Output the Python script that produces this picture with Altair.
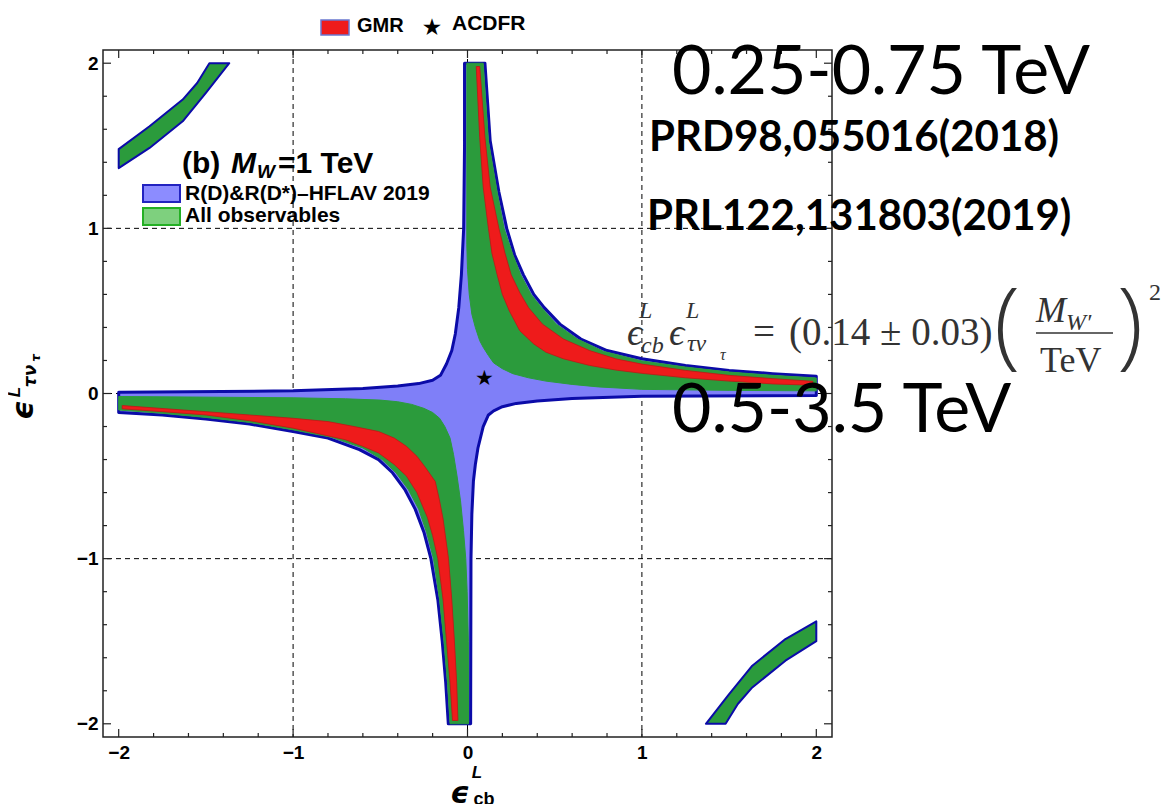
import altair as alt
import pandas as pd

# ---------------- data ----------------
# Blue region: R(D)&R(D*) HFLAV 2019 (one closed outline)
BLUE_X = [-0.017, 0.10, 0.13, 0.18, 0.225, 0.27, 0.32, 0.38, 0.44, 0.53, 0.65, 0.8, 1.0, 1.25, 1.5, 1.75, 2.0,
          2.0, 1.0, 0.6, 0.4, 0.28, 0.2, 0.15, 0.12, 0.09, 0.06, 0.045, 0.034, 0.025, 0.02, 0.018,
          -0.11, -0.125, -0.145, -0.17, -0.21, -0.25, -0.3, -0.36, -0.43, -0.51, -0.62, -0.8, -1.0, -1.25, -1.5, -1.75, -2.0,
          -2.0, -1.0, -0.6, -0.4, -0.28, -0.2, -0.155, -0.12, -0.09, -0.07, -0.05, -0.035, -0.022, -0.017]
BLUE_Y = [2.0, 2.0, 1.53, 1.22, 1.0, 0.84, 0.72, 0.6, 0.52, 0.42, 0.33, 0.26, 0.21, 0.17, 0.14, 0.12, 0.105,
          -0.012, -0.016, -0.03, -0.045, -0.06, -0.08, -0.105, -0.13, -0.2, -0.33, -0.43, -0.53, -0.73, -1.0, -2.0,
          -2.0, -1.75, -1.5, -1.25, -1.0, -0.84, -0.7, -0.58, -0.48, -0.4, -0.34, -0.27, -0.23, -0.185, -0.155, -0.13, -0.115,
          0.008, 0.016, 0.03, 0.045, 0.06, 0.08, 0.11, 0.18, 0.26, 0.36, 0.52, 0.72, 1.0, 1.5]

# Green region: all observables, first-quadrant branch
GREEN1_X = [-0.004, 0.09, 0.12, 0.17, 0.21, 0.26, 0.305, 0.365, 0.425, 0.51, 0.63, 0.78, 1.0, 1.25, 1.5, 1.75, 2.0,
            2.0, 1.5, 1.0, 0.75, 0.6, 0.45, 0.35, 0.26, 0.2, 0.15, 0.12, 0.09, 0.07, 0.045, 0.025, 0.01, 0.0, -0.004]
GREEN1_Y = [2.0, 2.0, 1.53, 1.22, 1.0, 0.84, 0.72, 0.6, 0.52, 0.42, 0.33, 0.255, 0.197, 0.16, 0.13, 0.11, 0.094,
            0.016, 0.019, 0.025, 0.04, 0.055, 0.075, 0.095, 0.12, 0.15, 0.185, 0.23, 0.28, 0.32, 0.4, 0.48, 0.6, 0.75, 0.9]
# third-quadrant branch
GREEN3_X = [-2.0, -1.0, -0.7, -0.5, -0.4, -0.32, -0.25, -0.2, -0.16, -0.13, -0.1, -0.08, -0.06, -0.04, -0.023, -0.01, -0.002, 0.005, 0.006,
            -0.1, -0.115, -0.135, -0.16, -0.195, -0.235, -0.28, -0.34, -0.41, -0.49, -0.6, -0.78, -1.0, -1.25, -1.5, -1.75, -2.0]
GREEN3_Y = [-0.018, -0.026, -0.032, -0.04, -0.05, -0.066, -0.09, -0.115, -0.15, -0.2, -0.27, -0.37, -0.5, -0.65, -0.83, -1.0, -1.2, -1.5, -2.0,
            -2.0, -1.75, -1.5, -1.25, -1.0, -0.84, -0.7, -0.58, -0.48, -0.4, -0.33, -0.265, -0.22, -0.175, -0.145, -0.12, -0.1]
# corner arcs (top-left and bottom-right)
ARC_TL_X = [-2.0, -2.0, -1.823, -1.633, -1.55, -1.48, -1.366, -1.5, -1.633, -1.823]
ARC_TL_Y = [1.365, 1.48, 1.618, 1.78, 1.88, 2.0, 2.0, 1.82, 1.648, 1.487]
ARC_BR_X = [1.367, 1.5, 1.633, 1.823, 2.0, 2.0, 1.823, 1.633, 1.55, 1.48]
ARC_BR_Y = [-2.0, -1.82, -1.648, -1.487, -1.38, -1.5, -1.618, -1.78, -1.88, -2.0]

# Red region: GMR
RED1_X = [0.05, 0.07, 0.1, 0.13, 0.18, 0.215, 0.25, 0.3, 0.35, 0.43, 0.55, 0.7, 0.85, 1.0, 1.25, 1.5, 1.75, 1.98,
          1.98, 1.75, 1.5, 1.25, 1.0, 0.85, 0.7, 0.55, 0.45, 0.38, 0.3, 0.24, 0.2, 0.17, 0.14, 0.12, 0.09, 0.07]
RED1_Y = [1.98, 1.98, 1.55, 1.25, 1.0, 0.85, 0.72, 0.61, 0.52, 0.42, 0.33, 0.26, 0.21, 0.178, 0.14, 0.11, 0.09, 0.074,
          0.05, 0.058, 0.075, 0.095, 0.122, 0.142, 0.17, 0.21, 0.25, 0.3, 0.38, 0.5, 0.6, 0.72, 0.85, 1.0, 1.25, 1.55]
RED3_X = [-1.98, -1.5, -1.25, -1.0, -0.8, -0.65, -0.51, -0.42, -0.35, -0.29, -0.24, -0.185, -0.16, -0.14, -0.109, -0.09, -0.075, -0.062, -0.055,
          -0.086, -0.1, -0.12, -0.14, -0.17, -0.2, -0.23, -0.29, -0.35, -0.42, -0.51, -0.6, -0.7, -0.85, -1.0, -1.25, -1.5, -1.75, -1.98]
RED3_Y = [-0.073, -0.11, -0.13, -0.15, -0.17, -0.2, -0.23, -0.27, -0.32, -0.38, -0.45, -0.533, -0.65, -0.76, -1.0, -1.25, -1.5, -1.75, -1.98,
          -1.98, -1.75, -1.5, -1.25, -1.0, -0.86, -0.75, -0.6, -0.5, -0.43, -0.36, -0.32, -0.28, -0.245, -0.21, -0.165, -0.13, -0.11, -0.093]

STAR_X = [0.1]
STAR_Y = [0.09]

GRID_VALUES = [-1, 0, 1]
MAJOR_TICKS = [-2, -1, 0, 1, 2]
MINOR_TICKS = [-1.8, -1.6, -1.4, -1.2, -0.8, -0.6, -0.4, -0.2, 0.2, 0.4, 0.6, 0.8, 1.2, 1.4, 1.6, 1.8]

# ---------------- layout ----------------
W, H = 729, 687
DOM = [-2.09, 2.09]
DOMY = [-2.08, 2.08]

BLUE_FILL = "#7f7ff8"
BLUE_EDGE = "#0b0ba8"
GREEN = "#2b9b3c"
RED = "#ee1b1b"


def poly(xs, ys, name):
    return pd.DataFrame({"x": xs, "y": ys, "o": list(range(len(xs))), "p": name})


AXX = alt.Axis(values=MAJOR_TICKS, ticks=False, domain=False, grid=False, title=None,
               labelFont="Liberation Sans", labelFontWeight="bold", labelFontSize=19,
               labelColor="black", labelPadding=6)
AXY = alt.Axis(values=MAJOR_TICKS, ticks=False, domain=False, grid=False, title=None,
               labelFont="Liberation Sans", labelFontWeight="bold", labelFontSize=19,
               labelColor="black", labelPadding=5)


def X(f="x"):
    return alt.X(f, type="quantitative", scale=alt.Scale(domain=DOM, nice=False, zero=False), axis=AXX)


def Y(f="y"):
    return alt.Y(f, type="quantitative", scale=alt.Scale(domain=DOMY, nice=False, zero=False), axis=AXY)


dummy = pd.DataFrame({"a": [0]})


def txt(s, x, y, size, font="Liberation Sans", weight="bold", style="normal", color="black",
        align="left", baseline="alphabetic", angle=0):
    kw = dict(text=s, fontSize=size, font=font, fontWeight=weight, fontStyle=style, color=color,
              align=align, baseline=baseline)
    if angle:
        kw["angle"] = angle
    return alt.Chart(dummy).mark_text(**kw).encode(x=alt.value(x), y=alt.value(y))


def box(x1, x2, y1, y2, fill, stroke, sw=1.5):
    return alt.Chart(dummy).mark_rect(fill=fill, stroke=stroke, strokeWidth=sw).encode(
        x=alt.value(x1), x2=alt.value(x2), y=alt.value(y1), y2=alt.value(y2))


# grid lines
grid_df = pd.DataFrame({"v": GRID_VALUES})
vgrid = alt.Chart(grid_df).mark_rule(color="black", strokeDash=[5, 4], strokeWidth=1).encode(x=X("v"))
hgrid = alt.Chart(grid_df).mark_rule(color="black", strokeDash=[5, 4], strokeWidth=1).encode(y=Y("v"))

blue = alt.Chart(poly(BLUE_X, BLUE_Y, "b")).mark_line(
    fill=BLUE_FILL, stroke=BLUE_EDGE, strokeWidth=3, interpolate="linear-closed", strokeJoin="round"
).encode(x=X(), y=Y(), order="o:Q", detail="p:N")

green_df = pd.concat([poly(GREEN1_X, GREEN1_Y, "g1"), poly(GREEN3_X, GREEN3_Y, "g3")])
green = alt.Chart(green_df).mark_line(
    fill=GREEN, stroke=GREEN, strokeWidth=1, interpolate="linear-closed"
).encode(x=X(), y=Y(), order="o:Q", detail="p:N")

arc_df = pd.concat([poly(ARC_TL_X, ARC_TL_Y, "a1"), poly(ARC_BR_X, ARC_BR_Y, "a2")])
arcs = alt.Chart(arc_df).mark_line(
    fill=GREEN, stroke=BLUE_EDGE, strokeWidth=2, interpolate="linear-closed", strokeJoin="round"
).encode(x=X(), y=Y(), order="o:Q", detail="p:N")

red_df = pd.concat([poly(RED1_X, RED1_Y, "r1"), poly(RED3_X, RED3_Y, "r3")])
red = alt.Chart(red_df).mark_line(
    fill=RED, stroke="#c01515", strokeWidth=0.8, interpolate="linear-closed"
).encode(x=X(), y=Y(), order="o:Q", detail="p:N")

star = alt.Chart(pd.DataFrame({"x": STAR_X, "y": STAR_Y})).mark_text(
    text="★", fontSize=21, color="black", baseline="middle", align="center"
).encode(x=X(), y=Y())

# tick marks (inward), all four sides
maj = pd.DataFrame({"v": MAJOR_TICKS})
mnr = pd.DataFrame({"v": MINOR_TICKS})
tick_layers = []
for df, ln in [(maj, 8), (mnr, 4)]:
    tick_layers += [
        alt.Chart(df).mark_rule(color="#222", strokeWidth=1.2).encode(x=X("v"), y=alt.value(H), y2=alt.value(H - ln)),
        alt.Chart(df).mark_rule(color="#222", strokeWidth=1.2).encode(x=X("v"), y=alt.value(0), y2=alt.value(ln)),
        alt.Chart(df).mark_rule(color="#222", strokeWidth=1.2).encode(y=Y("v"), x=alt.value(0), x2=alt.value(ln)),
        alt.Chart(df).mark_rule(color="#222", strokeWidth=1.2).encode(y=Y("v"), x=alt.value(W), x2=alt.value(W - ln)),
    ]

# axis titles (composite)
SER = "Liberation Serif"
titles = [
    txt("ϵ", 357, 744, 30, font="DejaVu Sans", weight="bold", style="italic", align="center", baseline="middle"),
    txt("L", 374, 723, 17, weight="bold", style="italic", align="center", baseline="middle"),
    txt("cb", 381, 750, 18, weight="bold", align="center", baseline="middle"),
    txt("ϵ", -79, 360, 30, font="DejaVu Sans", weight="bold", style="italic", align="center", baseline="middle", angle=270),
    txt("L", -88, 342, 17, weight="bold", style="italic", align="center", baseline="middle", angle=270),
    txt("τν", -72, 326, 17, font="DejaVu Sans", weight="bold", style="italic", align="center", baseline="middle", angle=270),
    txt("τ", -67, 308, 12, font="DejaVu Sans", weight="bold", style="italic", align="center", baseline="middle", angle=270),
]

# top legend
top_legend = [
    box(218, 246, -30, -15, "#ee1b1b", "#6a78d0", 1.5),
    txt("GMR", 254, -18, 20),
    txt("★", 329, -22, 20, align="center", baseline="middle"),
    txt("ACDFR", 349, -20, 21),
]

# inner legend
inner = [
    txt("(b)", 79, 123, 30),
    txt("M", 128, 123, 30, style="italic"),
    txt("W", 154, 128, 19, style="italic"),
    txt("=1 TeV", 175, 123, 30),
    box(40, 77, 135, 152, "#8c8cff", "#2323c0", 2),
    txt("R(D)&R(D*)–HFLAV 2019", 82, 150, 21),
    box(40, 77, 158, 175, "#7ed07e", "#24b024", 2),
    txt("All observables", 82, 172, 21),
]

# overlaid slide annotations
LATO = "Lato"
notes = [
    txt("0.25-0.75 TeV", 569, 44, 68, font=LATO, weight="normal"),
    txt("PRD98,055016(2018)", 546, 101, 42, font=LATO, weight="bold"),
    txt("PRL122,131803(2019)", 544, 180, 42, font=LATO, weight="bold"),
    txt("0.5-3.5 TeV", 569, 382, 68, font=LATO, weight="normal"),
]

FC = "#333333"
formula = [
    txt("ϵ", 524, 295, 38, font=SER, weight="normal", style="italic", color=FC),
    txt("L", 536, 268, 24, font=SER, weight="normal", style="italic", color=FC),
    txt("cb", 538, 303, 24, font=SER, weight="normal", style="italic", color=FC),
    txt("ϵ", 566, 295, 38, font=SER, weight="normal", style="italic", color=FC),
    txt("L", 583, 268, 24, font=SER, weight="normal", style="italic", color=FC),
    txt("τν", 584, 301, 24, font=SER, weight="normal", style="italic", color=FC),
    txt("τ", 617, 310, 16, font=SER, weight="normal", style="italic", color=FC),
    txt("=", 650, 295, 39, font=SER, weight="normal", color=FC),
    txt("(0.14 ± 0.03)", 686, 295, 39, font=SER, weight="normal", color=FC),
    txt("(", 891, 307, 96, font="Open Sans", weight=300, color=FC),
    txt("M", 933, 272, 36, font=SER, weight="normal", style="italic", color=FC),
    txt("W′", 963, 280, 24, font=SER, weight="normal", style="italic", color=FC),
    alt.Chart(dummy).mark_rule(color=FC, strokeWidth=1.5).encode(
        x=alt.value(933), x2=alt.value(1010), y=alt.value(283)),
    txt("TeV", 937, 322, 36, font=SER, weight="normal", color=FC),
    txt(")", 1014, 307, 96, font="Open Sans", weight=300, color=FC),
    txt("2", 1046, 250, 24, font=SER, weight="normal", color=FC),
]

chart = alt.layer(
    vgrid, hgrid, blue, green, arcs, red, star, *tick_layers, *titles, *top_legend, *inner, *notes, *formula
).properties(
    width=W, height=H,
    autosize=alt.AutoSizeParams(type="none"),
    padding={"left": 95, "top": 42, "right": 330, "bottom": 67},
).configure_view(stroke="#222", strokeWidth=1.5)

chart.save("out.html", embed_options={"renderer": "svg", "actions": False})
